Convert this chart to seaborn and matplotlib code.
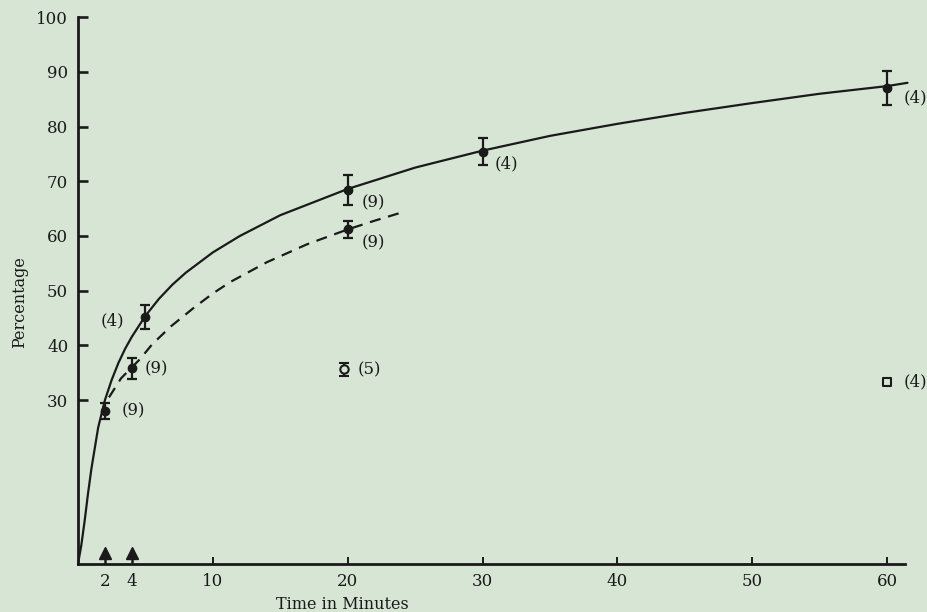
import matplotlib
matplotlib.use("Agg")
import matplotlib.pyplot as plt
import seaborn as sns

# ---------------------------------------------------------------
# Dados
# ---------------------------------------------------------------

# curva contínua (lida ponto a ponto)
curve_solid_x = [0, 0.25, 0.5, 0.75, 1, 1.5, 2, 2.5, 3, 3.5, 4, 5, 6, 7, 8, 10, 12, 15, 20, 25, 30, 35, 40, 45, 50, 55, 60, 61.5]
curve_solid_y = [0, 3.5, 8, 13, 17.5, 25, 30, 33.7, 36.8, 39.4, 41.6, 45.4, 48.5, 51.1, 53.3, 57, 60, 63.8, 68.6, 72.5, 75.6, 78.3, 80.5, 82.5, 84.3, 86, 87.4, 88]

# curva tracejada
curve_dash_x = [2.3, 3.2, 4.6, 5.5, 6.9, 8.5, 10, 11.3, 14, 17, 20, 22, 24]
curve_dash_y = [30.5, 34, 37.5, 40.2, 43.5, 46.7, 49.5, 51.6, 55.2, 58.5, 61.2, 62.8, 64.3]

# pontos cheios com barras de erro
filled_x = [2, 4, 5, 20, 20, 30, 60]
filled_y = [28.0, 35.8, 45.2, 68.4, 61.2, 75.4, 87.0]
filled_err = [1.4, 1.9, 2.2, 2.7, 1.55, 2.5, 3.1]
filled_n = ["(9)", "(9)", "(4)", "(9)", "(9)", "(4)", "(4)"]

# ponto aberto (círculo) e quadrado aberto
open_x = [19.7]
open_y = [35.6]
open_err = [1.2]
open_n = ["(5)"]

square_x = [60]
square_y = [33.3]
square_n = ["(4)"]

# setas no eixo x
arrow_x = [2, 4]

x_ticks = [2, 4, 10, 20, 30, 40, 50, 60]
y_ticks = [30, 40, 50, 60, 70, 80, 90, 100]

# deslocamento dos rótulos (pontos)
filled_offsets = [(12, 0), (9, 0), (-15, -3), (10, -9), (10, -10), (9, -9), (12, -7)]

# ---------------------------------------------------------------
# Estilo
# ---------------------------------------------------------------
bg = "#d7e5d5"
ink = "#1a1a1a"
sns.set_theme(style="ticks")
plt.rcParams["font.family"] = ["DejaVu Serif"]

fig = plt.figure(figsize=(9.28, 6.12), dpi=100, facecolor=bg)
ax = fig.add_axes([0.084, 0.078, 0.891, 0.894])
ax.set_facecolor(bg)

# curvas
sns.lineplot(x=curve_solid_x, y=curve_solid_y, ax=ax, color=ink, lw=1.6,
             sort=False, estimator=None, clip_on=False)
sns.lineplot(x=curve_dash_x, y=curve_dash_y, ax=ax, color=ink, lw=1.6,
             sort=False, estimator=None, dashes=False, linestyle=(0, (5, 3.5)))

# pontos com erro
ax.errorbar(filled_x, filled_y, yerr=filled_err, fmt="o", color=ink, ms=6,
            elinewidth=1.6, capsize=3.6, capthick=1.6, clip_on=False, zorder=5)
ax.errorbar(open_x, open_y, yerr=open_err, fmt="o", color=ink, mfc=bg, mew=1.5,
            ms=6, elinewidth=1.6, capsize=3.6, capthick=1.6, zorder=5)
sns.scatterplot(x=square_x, y=square_y, ax=ax, marker="s", s=30, facecolor=bg,
                edgecolor=ink, linewidth=1.5, zorder=5, clip_on=False)

# rótulos n
for x, y, t, (dx, dy) in zip(filled_x, filled_y, filled_n, filled_offsets):
    ax.annotate(t, (x, y), xytext=(dx, dy), textcoords="offset points",
                ha="right" if dx < 0 else "left", va="center", fontsize=12,
                color=ink, annotation_clip=False)
for x, y, t in zip(open_x, open_y, open_n):
    ax.annotate(t, (x, y), xytext=(10, 0), textcoords="offset points",
                ha="left", va="center", fontsize=12, color=ink)
for x, y, t in zip(square_x, square_y, square_n):
    ax.annotate(t, (x, y), xytext=(12, 0), textcoords="offset points",
                ha="left", va="center", fontsize=12, color=ink,
                annotation_clip=False)

# setas
ax.vlines(arrow_x, 0, 1.4, color=ink, lw=1.8)
ax.plot(arrow_x, [2.0] * len(arrow_x), "^", color=ink, ms=8, clip_on=False)

# eixos
ax.set_xlim(0, 61.3)
ax.set_ylim(0, 100)
ax.set_xticks(x_ticks)
ax.set_yticks(y_ticks)
sns.despine(ax=ax)
for s in ["left", "bottom"]:
    ax.spines[s].set_linewidth(2)
    ax.spines[s].set_color(ink)
ax.tick_params(axis="y", direction="in", length=7, width=1.9, pad=7,
               labelsize=12, colors=ink)
ax.tick_params(axis="x", direction="in", length=5, width=1.4, pad=6,
               labelsize=12, colors=ink)
for t in ax.xaxis.get_major_ticks()[:2]:
    t.tick1line.set_visible(False)

ax.set_xlabel("Time in Minutes", fontsize=11.5, color=ink)
ax.xaxis.set_label_coords(0.32, -0.058)
ax.set_ylabel("Percentage", fontsize=11.5, color=ink)
ax.yaxis.set_label_coords(-0.06, 0.48)

fig.savefig("out.png", dpi=100, facecolor=bg)
